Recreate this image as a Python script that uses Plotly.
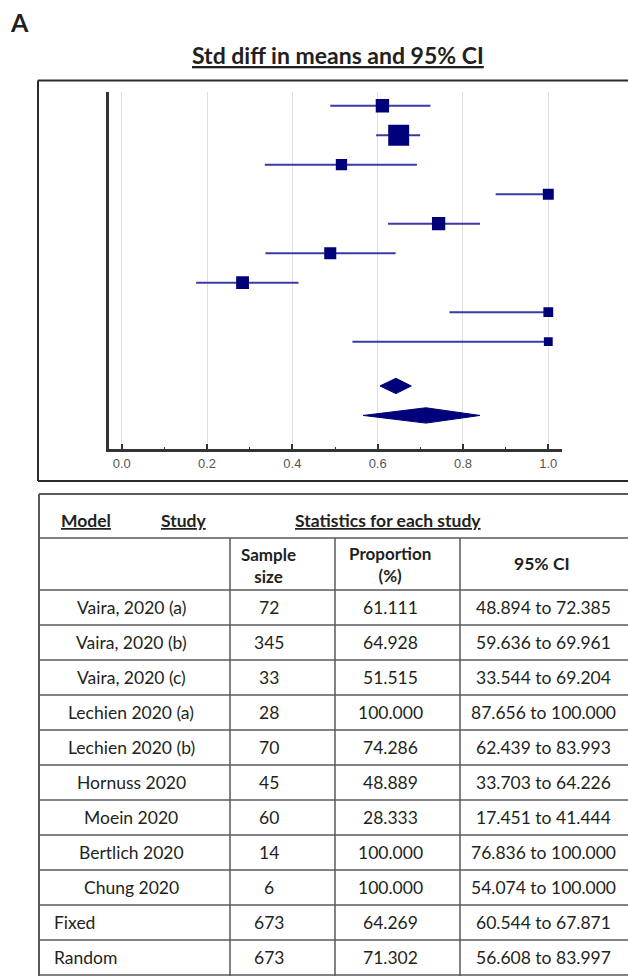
import plotly.graph_objects as go
import numpy as np

# ---------------- data ----------------
studies = ["Vaira, 2020 (a)", "Vaira, 2020 (b)", "Vaira, 2020 (c)", "Lechien 2020 (a)",
           "Lechien 2020 (b)", "Hornuss 2020", "Moein 2020", "Bertlich 2020", "Chung 2020"]
sample_size = [72, 345, 33, 28, 70, 45, 60, 14, 6]
proportion = [61.111, 64.928, 51.515, 100.000, 74.286, 48.889, 28.333, 100.000, 100.000]
ci_low = [48.894, 59.636, 33.544, 87.656, 62.439, 33.703, 17.451, 76.836, 54.074]
ci_high = [72.385, 69.961, 69.204, 100.000, 83.993, 64.226, 41.444, 100.000, 100.000]

pooled_models = ["Fixed", "Random"]
pooled_n = [673, 673]
pooled_prop = [64.269, 71.302]
pooled_low = [60.544, 56.608]
pooled_high = [67.871, 83.997]

x_ticks = [0.0, 0.2, 0.4, 0.6, 0.8, 1.0]

# ---------------- layout helpers ----------------
W, H = 628, 976
def px(x):
    return x / W
def py(y):
    return 1 - y / H

FONT = "Lato"
TXT = "#231f20"
LINE_C = "#3a3aa6"
MARK_C = "#00007a"

fig = go.Figure()

# study rows
row_y = list(range(len(studies)))
for i in range(len(studies)):
    fig.add_trace(go.Scatter(
        x=[ci_low[i] / 100, ci_high[i] / 100], y=[row_y[i], row_y[i]],
        mode="lines", line=dict(color=LINE_C, width=2), hoverinfo="skip", showlegend=False))
sizes = [7 + 0.75 * np.sqrt(n) for n in sample_size]
fig.add_trace(go.Scatter(
    x=[p / 100 for p in proportion], y=row_y, mode="markers",
    marker=dict(symbol="square", size=sizes, color=MARK_C, opacity=1, line=dict(width=0)),
    text=studies, showlegend=False))

# pooled diamonds
pooled_y = [9.5, 10.5]
half_h = 0.26
for j in range(len(pooled_models)):
    lo, c, hi = pooled_low[j] / 100, pooled_prop[j] / 100, pooled_high[j] / 100
    yy = pooled_y[j]
    fig.add_trace(go.Scatter(
        x=[lo, c, hi, c, lo], y=[yy, yy - half_h, yy, yy + half_h, yy],
        mode="lines", fill="toself", fillcolor=MARK_C, line=dict(color=MARK_C, width=1),
        name=pooled_models[j], showlegend=False))

# axes for the forest plot
x0_px, x1_px = 121.7, 548.3
unit = x1_px - x0_px
left_px, right_px = 109.0, 561.7
top_px, bot_px = 91.7, 449.3
fig.update_xaxes(
    domain=[px(left_px), px(right_px)],
    range=[(left_px - x0_px) / unit, (right_px - x0_px) / unit],
    tickvals=x_ticks, ticktext=[f"{v:.1f}" for v in x_ticks],
    ticks="inside", ticklen=6, tickwidth=1.5, tickcolor="#333",
    minor=dict(ticks="inside", ticklen=3, tickwidth=1.2, tickcolor="#333",
               tickvals=[0.1, 0.3, 0.5, 0.7, 0.9], showgrid=False),
    showgrid=True, gridcolor="#e0e0e0", gridwidth=1,
    showline=True, linecolor="#333", linewidth=2.5,
    zeroline=False, tickfont=dict(family="Liberation Sans", size=13, color="#555"),
    fixedrange=True)
row_px0, row_step = 105.7, 29.5
fig.update_yaxes(
    domain=[py(bot_px), py(top_px)],
    range=[(bot_px - row_px0) / row_step, (top_px - row_px0) / row_step],
    showline=True, linecolor="#333", linewidth=2.5,
    showgrid=False, zeroline=False, showticklabels=False, ticks="",
    fixedrange=True)

shapes = []
ann = []

# frame of top panel
for (xa, xb, ya, yb) in [(38, 640, 80.5, 80.5), (38, 640, 481, 481), (38, 38, 80.5, 481)]:
    shapes.append(dict(type="line", xref="paper", yref="paper",
                       x0=px(xa), x1=px(xb), y0=py(ya), y1=py(yb),
                       line=dict(color="#2a2a2a", width=2)))

# panel label and title
ann.append(dict(text="<b>A</b>", x=px(8), y=py(22), xref="paper", yref="paper",
                xanchor="left", yanchor="middle", showarrow=False,
                font=dict(family=FONT, size=25, color=TXT)))
ann.append(dict(text="<b><u>Std diff in means and 95% CI</u></b>", x=px(338), y=py(55),
                xref="paper", yref="paper", xanchor="center", yanchor="middle",
                showarrow=False, font=dict(family=FONT, size=23, color=TXT)))

# ---------------- table ----------------
T_LEFT = 39
T_TOP = 494
H1 = 538
H2 = 590
ROW_H = 35
col_div = [230, 335, 460]
tcol = "#5a5a5a"

def hline(y, x0=T_LEFT, x1=640, w=1.5, c=tcol):
    shapes.append(dict(type="line", xref="paper", yref="paper",
                       x0=px(x0), x1=px(x1), y0=py(y), y1=py(y), line=dict(color=c, width=w)))
def vline(x, y0, y1, w=1.5, c=tcol):
    shapes.append(dict(type="line", xref="paper", yref="paper",
                       x0=px(x), x1=px(x), y0=py(y0), y1=py(y1), line=dict(color=c, width=w)))

n_rows = len(studies) + len(pooled_models)
hline(T_TOP, w=2)
hline(H1)
hline(H2)
for k in range(1, n_rows + 1):
    hline(H2 + ROW_H * k)
vline(T_LEFT, T_TOP, 990, w=2)
for xd in col_div:
    vline(xd, H1, 990)

def txt(s, x, y, anchor="center", size=17.5, bold=False):
    ann.append(dict(text=(f"<b>{s}</b>" if bold else s), x=px(x), y=py(y),
                    xref="paper", yref="paper", xanchor=anchor, yanchor="middle",
                    showarrow=False, font=dict(family=FONT, size=size, color=TXT)))

# header
hy = (T_TOP + H1) / 2 + 4
txt("<u>Model</u>", 59, hy, anchor="left", bold=True)
txt("<u>Study</u>", 159, hy, anchor="left", bold=True)
txt("<u>Statistics for each study</u>", 388, hy, bold=True)
txt("Sample<br>size", 268, 565, bold=True, size=17)
txt("Proportion<br>(%)", 390, 564, bold=True, size=17)
txt("95% CI", 542, 563, bold=True)

cx = [131, 269, 390, 543]
for i in range(len(studies)):
    yc = H2 + ROW_H * i + ROW_H / 2
    txt(studies[i], cx[0], yc)
    txt(str(sample_size[i]), cx[1], yc)
    txt(f"{proportion[i]:.3f}", cx[2], yc)
    txt(f"{ci_low[i]:.3f} to {ci_high[i]:.3f}", cx[3], yc)
for j in range(len(pooled_models)):
    yc = H2 + ROW_H * (len(studies) + j) + ROW_H / 2
    txt(pooled_models[j], 52, yc, anchor="left")
    txt(str(pooled_n[j]), cx[1], yc)
    txt(f"{pooled_prop[j]:.3f}", cx[2], yc)
    txt(f"{pooled_low[j]:.3f} to {pooled_high[j]:.3f}", cx[3], yc)

fig.update_layout(
    width=W, height=H, margin=dict(l=0, r=0, t=0, b=0),
    paper_bgcolor="white", plot_bgcolor="white",
    shapes=shapes, annotations=ann, showlegend=False)

fig.write_html("out.html")
